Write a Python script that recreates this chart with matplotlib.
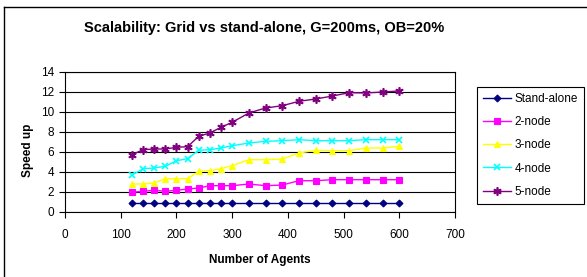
import matplotlib
matplotlib.use('Agg')
import matplotlib.pyplot as plt
from matplotlib.lines import Line2D

plt.rcParams['font.family'] = ['Liberation Sans', 'DejaVu Sans']

agents = [120, 140, 160, 180, 200, 220, 240, 260, 280, 300,
          330, 360, 390, 420, 450, 480, 510, 540, 570, 600]

stand_alone = [0.9] * 20
node2 = [1.97, 2.07, 2.17, 2.07, 2.17, 2.3, 2.4, 2.63, 2.63, 2.63,
         2.8, 2.63, 2.7, 3.13, 3.13, 3.23, 3.23, 3.23, 3.23, 3.23]
node3 = [2.8, 2.8, 2.9, 3.33, 3.33, 3.33, 4.07, 4.13, 4.33, 4.63,
         5.23, 5.23, 5.3, 5.9, 6.17, 6.13, 6.13, 6.4, 6.4, 6.57]
node4 = [3.67, 4.33, 4.4, 4.57, 5.13, 5.33, 6.17, 6.23, 6.4, 6.63,
         6.9, 7.07, 7.13, 7.23, 7.13, 7.13, 7.13, 7.23, 7.23, 7.23]
node5 = [5.73, 6.23, 6.3, 6.3, 6.47, 6.53, 7.57, 7.9, 8.47, 8.97,
         9.9, 10.4, 10.63, 11.07, 11.3, 11.6, 11.93, 11.9, 12.0, 12.1]

series = [
    ('Stand-alone', stand_alone, '#000080', 'D', 3.5),
    ('2-node', node2, '#FF00FF', 's', 4),
    ('3-node', node3, '#FFFF00', '^', 4.5),
    ('4-node', node4, '#00FFFF', 'x', 5),
    ('5-node', node5, '#800080', (6, 2, 0), 6),
]

fig = plt.figure(figsize=(5.87, 2.77), dpi=100)
ax = fig.add_axes([65 / 587, 1 - 212 / 277, 390 / 587, 140 / 277])

for name, vals, col, mk, ms in series:
    ax.plot(agents, vals, color=col, marker=mk, markersize=ms, lw=1,
            markeredgewidth=1.2 if mk in ('x', (6, 2, 0)) else 0.8,
            label=name, clip_on=False, zorder=3)

ax.set_xlim(0, 700)
ax.set_ylim(0, 14)
ax.set_xticks(range(0, 701, 100))
ax.set_yticks(range(0, 15, 2))
ax.grid(axis='y', color='black', lw=0.8)
ax.set_axisbelow(True)
ax.tick_params(labelsize=8.5, length=4, width=0.8, direction='out')
ax.tick_params(axis='x', pad=8)
ax.tick_params(axis='y', pad=4)
for s in ax.spines.values():
    s.set_linewidth(0.8)

ax.set_xlabel('Number of Agents', fontsize=8.5, fontweight='bold', labelpad=9.5)
fig.text(28 / 587, 1 - 150 / 277, 'Speed up', fontsize=8.5, fontweight='bold',
         rotation=90, ha='center', va='center')
fig.text(264 / 587, 1 - 28 / 277, 'Scalability: Grid vs stand-alone, G=200ms, OB=20%',
         fontsize=10.5, fontweight='bold', ha='center', va='center')

leg = fig.legend(loc='upper left', bbox_to_anchor=(477 / 587, 1 - 87 / 277),
                 fontsize=8.5, fancybox=False, edgecolor='black', framealpha=1,
                 handlelength=2.4, handletextpad=0.3, labelspacing=0.95,
                 borderpad=0.5, borderaxespad=0)
leg.get_frame().set_linewidth(0.8)

# chart border
fig.add_artist(Line2D([3.5 / 587, 3.5 / 587], [0, 1 - 7 / 277], color='black', lw=1))
fig.add_artist(Line2D([3.5 / 587, 1], [1 - 7 / 277, 1 - 7 / 277], color='black', lw=1))

fig.savefig('out.png', dpi=100)
